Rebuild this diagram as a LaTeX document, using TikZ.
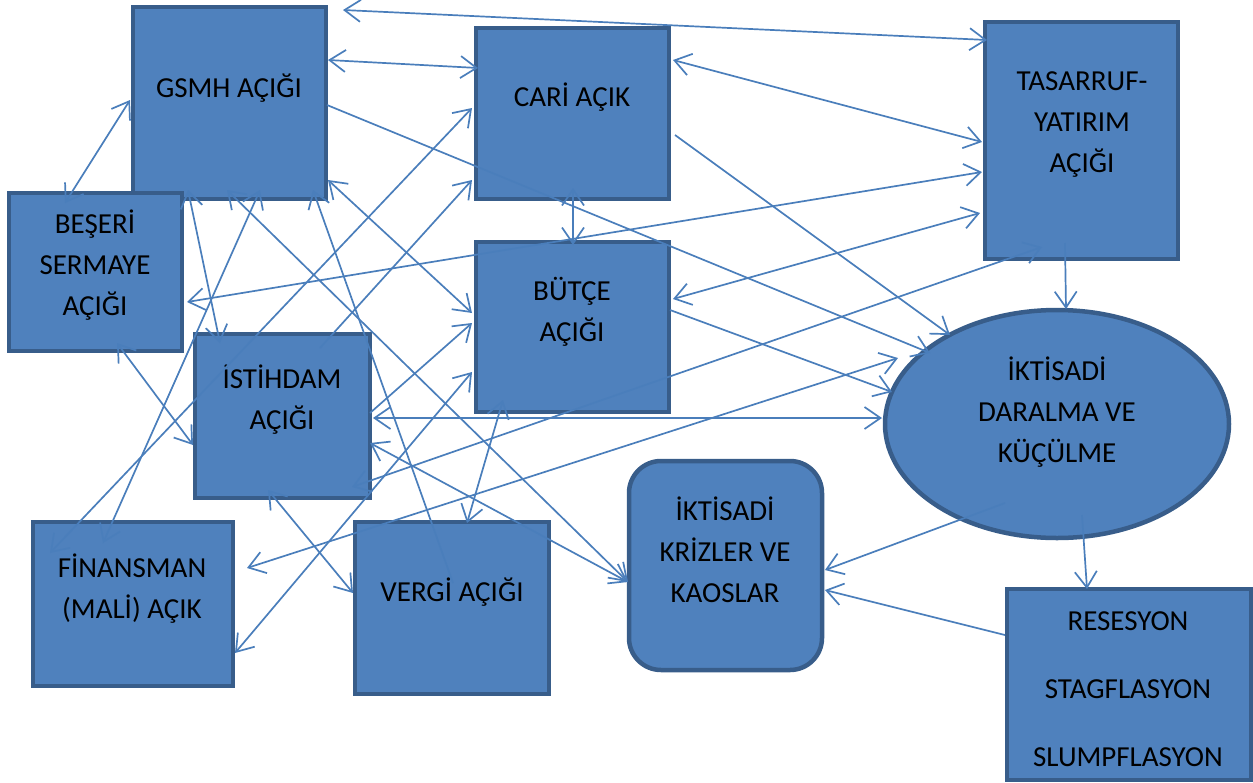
\documentclass[tikz,border=0pt]{standalone}
\usepackage{fontspec}
\setmainfont{Carlito}
\usetikzlibrary{arrows.meta,shapes.geometric}
\definecolor{boxfill}{HTML}{4F81BD}
\definecolor{boxline}{HTML}{385D8A}
\definecolor{arrowc}{HTML}{4A7EBB}
\begin{document}
\begin{tikzpicture}[x=0.5pt,y=-0.5pt,
  box/.style={draw=boxline,fill=boxfill,line width=2.25pt,inner sep=0pt,outer sep=0pt,anchor=north west},
  oval/.style={ellipse,draw=boxline,fill=boxfill,line width=2.25pt,inner sep=0pt,outer sep=0pt},
  lbl/.style={align=center,font=\fontsize{14.5}{20.5}\selectfont,inner sep=0pt,text=black},
  conn/.style={draw=arrowc,line width=0.85pt},
  two/.style={conn,{Straight Barb[length=8pt,width=11pt]}-{Straight Barb[length=8pt,width=11pt]}},
  one/.style={conn,-{Straight Barb[length=8pt,width=11pt]}}]
\path[use as bounding box] (0,0) rectangle (1253,782);

% boxes
\node[box,minimum width=96.5pt,minimum height=96pt] (gsmh) at (133,7) {};
\node[box,minimum width=86.5pt,minimum height=79pt] (beseri) at (9,193) {};
\node[box,minimum width=96.5pt,minimum height=85.5pt] (cari) at (476,28) {};
\node[box,minimum width=96.5pt,minimum height=85pt] (butce) at (476,242) {};
\node[box,minimum width=96.5pt,minimum height=118.5pt] (tasarruf) at (985,22) {};
\node[box,minimum width=87.5pt,minimum height=82pt] (istihdam) at (195,334) {};
\node[box,minimum width=100pt,minimum height=82pt] (finansman) at (33,522) {};
\node[box,minimum width=97pt,minimum height=86pt] (vergi) at (355,522) {};
\node[box,rounded corners=16pt,minimum width=96.5pt,minimum height=104.5pt] (kriz) at (629,461) {};
\node[box,minimum width=122pt,minimum height=95.5pt] (resesyon) at (1007,589) {};
\node[oval,minimum width=172pt,minimum height=114pt] (daralma) at (1057,424) {};

% texts
\node[lbl] (gsmhT) at (229,88) {GSMH AÇIĞI};
\node[lbl] (beseriT) at (95,265) {BEŞERİ\\SERMAYE\\AÇIĞI};
\node[lbl] (cariT) at (572,97) {CARİ AÇIK};
\node[lbl] (butceT) at (572,312) {BÜTÇE\\AÇIĞI};
\node[lbl] (tasarrufT) at (1082,125) {TASARRUF-\\YATIRIM\\AÇIĞI};
\node[lbl] (istihdamT) at (282,400) {İSTİHDAM\\AÇIĞI};
\node[lbl] (finansmanT) at (132,589) {FİNANSMAN\\(MALİ) AÇIK};
\node[lbl] (vergiT) at (452,592) {VERGİ AÇIĞI};
\node[lbl] (krizT) at (725,550) {İKTİSADİ\\KRİZLER VE\\KAOSLAR};
\node[lbl] (daralmaT) at (1057,412) {İKTİSADİ\\DARALMA VE\\KÜÇÜLME};
\node[lbl,font=\fontsize{14.5}{34}\selectfont] (resesyonT) at (1128,689) {RESESYON\\STAGFLASYON\\SLUMPFLASYON};

% connectors
\draw[two] ([shift={(210,3)}]gsmh.north west) -- ([shift={(2,18)}]tasarruf.north west);
\draw[two] ([shift={(195,53)}]gsmh.north west) -- ([shift={(2,40)}]cari.north west);
\draw[one] ([shift={(194,98)}]gsmh.north west) -- ([shift={(-127,-71)}]daralma.center);
\draw[one] ([shift={(199,107)}]cari.north west) -- ([shift={(-107,-89)}]daralma.center);
\draw[two] ([shift={(197,32)}]cari.north west) -- ([shift={(-3,120)}]tasarruf.north west);
\draw[two] ([shift={(178,109)}]beseri.north west) -- ([shift={(-3,150)}]tasarruf.north west);
\draw[two] ([shift={(197,57)}]butce.north west) -- ([shift={(-5,191)}]tasarruf.north west);
\draw[two] ([shift={(157,153)}]istihdam.north west) -- ([shift={(57,225)}]tasarruf.north west);
\draw[one] ([shift={(80,221)}]tasarruf.north west) -- ([shift={(9,-115)}]daralma.center);
\draw[one] ([shift={(25,91)}]daralma.center) -- ([shift={(80,0)}]resesyon.north west);
\draw[one] ([shift={(-52,79)}]daralma.center) -- ([shift={(196,109)}]kriz.north west);
\draw[one] ([shift={(-2,46)}]resesyon.north west) -- ([shift={(196,129)}]kriz.north west);
\draw[two] ([shift={(178,84)}]istihdam.north west) -- ([shift={(-175,-6)}]daralma.center);
\draw[two] ([shift={(214,46)}]finansman.north west) -- ([shift={(-159,-66)}]daralma.center);
\draw[one] ([shift={(194,68)}]butce.north west) -- ([shift={(-165,-32)}]daralma.center);
\draw[two] ([shift={(97,160)}]cari.north west) -- ([shift={(97,3)}]butce.north west);
\draw[two] ([shift={(175,109)}]istihdam.north west) -- ([shift={(-1,121)}]kriz.north west);
\draw[two] ([shift={(94,183)}]gsmh.north west) -- ([shift={(-1,121)}]kriz.north west);
\draw[two] ([shift={(73,156)}]istihdam.north west) -- ([shift={(-2,71)}]vergi.north west);
\draw[two] ([shift={(112,1)}]vergi.north west) -- ([shift={(27,158)}]butce.north west);
\draw[two] ([shift={(108,150)}]beseri.north west) -- ([shift={(-2,111)}]istihdam.north west);
\draw[two] ([shift={(202,131)}]finansman.north west) -- ([shift={(-4,130)}]butce.north west);
\draw[one] ([shift={(175,79)}]istihdam.north west) -- ([shift={(-4,81)}]butce.north west);
\draw[two] ([shift={(195,173)}]gsmh.north west) -- ([shift={(-4,71)}]butce.north west);
\draw[one] ([shift={(98,61)}]vergi.north west) -- ([shift={(180,183)}]gsmh.north west);
\draw[two] ([shift={(17,31)}]finansman.north west) -- ([shift={(-4,80)}]cari.north west);
\draw[one] ([shift={(125,14)}]istihdam.north west) -- ([shift={(-4,152)}]cari.north west);
\draw[two] ([shift={(55,183)}]gsmh.north west) -- ([shift={(25,9)}]istihdam.north west);
\draw[two] ([shift={(127,183)}]gsmh.north west) -- ([shift={(70,21)}]finansman.north west);
\draw[two] ([shift={(56,10)}]beseri.north west) -- ([shift={(-3,93)}]gsmh.north west);
\end{tikzpicture}
\end{document}
